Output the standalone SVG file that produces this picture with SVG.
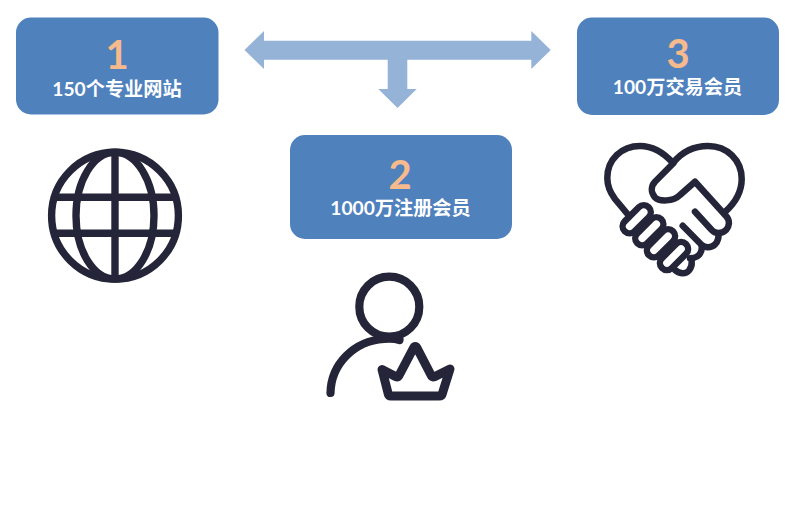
<svg xmlns="http://www.w3.org/2000/svg" width="800" height="518" viewBox="0 0 800 518">
<style>
.box{fill:#4F81BD}
.num{font-family:Lato,"Noto Sans CJK SC",sans-serif;font-weight:700;font-size:40px;fill:#F7BA8C;text-anchor:middle}
.lbl{font-family:Lato,"Noto Sans CJK SC",sans-serif;font-weight:700;font-size:19.2px;fill:#fff;text-anchor:middle}
.ic{fill:none;stroke:#25253A;stroke-linecap:round;stroke-linejoin:round}
.f{fill:#fff}
</style>
<rect width="800" height="518" fill="#fff"/>
<g id="connectors">
<path fill="#95B3D7" d="M244.500 50L264 31V40.700H531.300V31L550.700 50L531.300 69V59.700H407.300V89H416.700L397.500 108L378.300 89H387.700V59.700H264V69Z"/>
</g>
<g id="node1">
<rect class="box" x="16" y="17.500" width="202.500" height="97" rx="15"/>
<text class="num" x="117" y="68.500">1</text>
<text class="lbl" x="117" y="95.500">150个专业网站</text>
</g>
<g id="node2">
<rect class="box" x="290" y="135" width="222" height="104" rx="15"/>
<text class="num" x="400" y="188.500">2</text>
<text class="lbl" x="400.500" y="215">1000万注册会员</text>
</g>
<g id="node3">
<rect class="box" x="577" y="17.500" width="202" height="97.500" rx="15"/>
<text class="num" x="678" y="67.500">3</text>
<text class="lbl" x="677.500" y="94">100万交易会员</text>
</g>
<g id="icon-globe" class="ic" stroke-width="7.400">
<circle cx="115" cy="215.700" r="63.400"/>
<ellipse cx="115" cy="215.700" rx="39" ry="63.400"/>
<path stroke-linecap="butt" d="M115 152V279M55 197.300H175M55 233.300H175"/>
</g>
<g id="icon-member" class="ic" stroke-width="8.200">
<circle cx="389.300" cy="306.700" r="30"/>
<path d="M399.500 340C396 339 390 338.500 384 339C354 341 331 364 330.500 393"/>
<path stroke-width="9" d="M382 369.500L395.500 376.500C397 377.300 398 377 399 375.500L413.500 348C414.500 346 416 346 417 348L431 375C432 377 433 377.300 435 376.500L450 369L442.500 393C442 395.500 441 396 439 396H391C389 396 388.500 395.500 388 393Z"/>
</g>
<g id="icon-handshake" class="ic" stroke-width="6.500">
<path d="M630 217L615 199C609 191 607.300 185 607.300 178C607.300 159 622 146 640 146C654 146 664 153 673 163C681 153 692 146 708 146C727 146 741.700 160 741.700 179C741.700 192 735 203 725 212"/>
<path d="M673.300 163.300L655 181.700C651 186 650.500 192 655 197.500C659 201.500 673 202 680 195L695 181.700L726.700 216.700C730 221 729.500 226 726 230C722 234 715 234 711.700 230L695 211.700"/>
<path d="M718.300 233.300C719 238 718.500 241 715 244.500C711 248 705 248 701.700 245L682.700 225.700"/>
<path d="M701.700 246.700C702 251 701 254 697 256.500C695 258 693 258.300 690 258.300"/>
<path d="M691.700 261.700C692 265 691 268 689 270.500C686 274 680 274.500 675 270"/>
<rect class="f" x="619.700" y="212.300" width="34" height="14" rx="7" transform="rotate(-45 636.700 219.300)"/>
<rect class="f" x="632.300" y="224.300" width="34" height="14" rx="7" transform="rotate(-45 649.300 231.300)"/>
<rect class="f" x="644" y="236.300" width="34" height="14" rx="7" transform="rotate(-45 661 243.300)"/>
<rect class="f" x="657" y="249" width="34" height="14" rx="7" transform="rotate(-45 674 256)"/>
</g>
</svg>
